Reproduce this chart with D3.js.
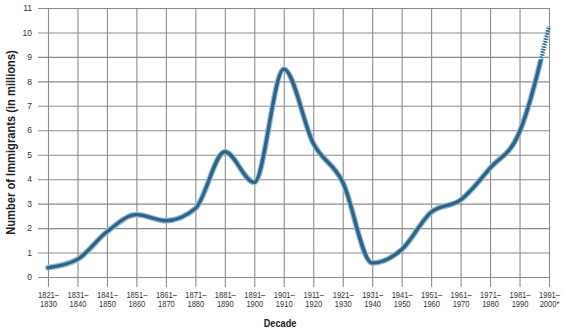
<!DOCTYPE html>
<html lang="en">
<head>
<meta charset="UTF-8">
<title>Immigration by decade</title>
<script src="https://cdn.jsdelivr.net/npm/d3@7"></script>
<style>
  body { margin: 0; background: #fff; }
  text { font-family: "Liberation Sans", Arial, sans-serif; }
</style>
</head>
<body>
<script>
// decades (two line labels) and immigrants in millions
var decadeStart = ["1821", "1831", "1841", "1851", "1861", "1871", "1881", "1891", "1901",
                   "1911", "1921", "1931", "1941", "1951", "1961", "1971", "1981", "1991"];
var decadeEnd = ["1830", "1840", "1850", "1860", "1870", "1880", "1890", "1900", "1910",
                 "1920", "1930", "1940", "1950", "1960", "1970", "1980", "1990", "2000*"];
var immigrants = [0.38, 0.72, 1.85, 2.55, 2.3, 2.8, 5.12, 3.87, 8.5,
                  5.47, 3.88, 0.57, 1.12, 2.65, 3.15, 4.45, 5.93, 10.25];
var yTicks = d3.range(0, 12);

var width = 564, height = 331;
var margin = {left: 48, right: 15, top: 8, bottom: 54};
var squeeze = 0.89;   // the original type is condensed

var svg = d3.select("body").append("svg")
    .attr("width", width)
    .attr("height", height);

var x = d3.scalePoint()
    .domain(decadeStart)
    .range([margin.left, width - margin.right]);

var y = d3.scaleLinear()
    .domain([0, 11])
    .range([height - margin.bottom, margin.top]);

// grid as axes with long ticks
var gx = svg.append("g")
    .attr("transform", "translate(0," + (height - margin.bottom + 10) + ")")
    .call(d3.axisBottom(x)
        .tickSize(-(y(0) - y(11) + 10))
        .tickFormat(""));
gx.select(".domain").remove();
gx.selectAll(".tick line").attr("stroke", "#8c8c8c").attr("stroke-width", 1.1);

var gy = svg.append("g")
    .attr("transform", "translate(" + (width - margin.right) + ",0)")
    .call(d3.axisLeft(y)
        .tickValues(yTicks)
        .tickSize(x.range()[1] - x.range()[0] + 10)
        .tickFormat(""));
gy.select(".domain").remove();
gy.selectAll(".tick line").attr("stroke", "#8c8c8c").attr("stroke-width", 1.1);

// y labels, a bit condensed
svg.append("g").selectAll("text")
    .data(yTicks)
    .enter().append("text")
    .attr("transform", function(d) { return "translate(32," + (y(d) + 3.2) + ") scale(0.95,1)"; })
    .attr("text-anchor", "end")
    .attr("font-size", 9)
    .attr("fill", "#333")
    .text(function(d) { return d; });

// two line x labels, each line its own text
var xl = svg.append("g").selectAll("g")
    .data(decadeStart)
    .enter().append("g")
    .attr("transform", function(d) { return "translate(" + (x(d) + 0.5) + ",0)"; });
xl.append("text")
    .attr("transform", "translate(0," + (height - margin.bottom + 20.7) + ") scale(" + squeeze + ",1)")
    .attr("text-anchor", "middle")
    .attr("font-size", 8.5)
    .attr("fill", "#333")
    .text(function(d) { return d + "\u2013"; });
xl.append("text")
    .attr("transform", "translate(0," + (height - margin.bottom + 30.2) + ") scale(" + squeeze + ",1)")
    .attr("text-anchor", "middle")
    .attr("font-size", 8.5)
    .attr("fill", "#333")
    .text(function(d, i) { return decadeEnd[i]; });

// the line
var pts = decadeStart.map(function(d, i) { return [x(d), y(immigrants[i])]; });
var line = d3.line().curve(d3.curveMonotoneX);

// last decade: solid lower part, dotted upper part
var splitY = y(8.9);
var defs = svg.append("defs");
defs.append("clipPath").attr("id", "lowPart")
    .append("rect").attr("x", 0).attr("y", splitY).attr("width", width).attr("height", height);
defs.append("clipPath").attr("id", "highPart")
    .append("rect").attr("x", 0).attr("y", 0).attr("width", width).attr("height", splitY);

var lineG = svg.append("g").attr("fill", "none").attr("stroke-linecap", "round").attr("stroke-linejoin", "round");

function drawPath(clip, dash) {
    var full = line(pts);
    var p1 = lineG.append("path")
        .attr("d", full)
        .attr("stroke", "#9cbdd2")
        .attr("stroke-width", 5.8);
    var p2 = lineG.append("path")
        .attr("d", full)
        .attr("stroke", "#2c6589")
        .attr("stroke-width", 3.4);
    [p1, p2].forEach(function(p) {
        p.attr("clip-path", "url(#" + clip + ")");
        if (dash) p.attr("stroke-dasharray", dash).attr("stroke-linecap", "butt");
    });
}
drawPath("lowPart", null);
drawPath("highPart", "1.5,1.2");

// titles
svg.append("text")
    .attr("transform", "translate(280,327) scale(0.78,1)")
    .attr("text-anchor", "middle")
    .attr("font-size", 11.8)
    .attr("font-weight", "bold")
    .attr("fill", "#222")
    .text("Decade");

svg.append("text")
    .attr("transform", "translate(15," + ((y(0) + y(11)) / 2) + ") rotate(-90) scale(0.93,1)")
    .attr("text-anchor", "middle")
    .attr("font-size", 12)
    .attr("font-weight", "bold")
    .attr("fill", "#222")
    .text("Number of Immigrants (in millions)");
</script>
</body>
</html>
